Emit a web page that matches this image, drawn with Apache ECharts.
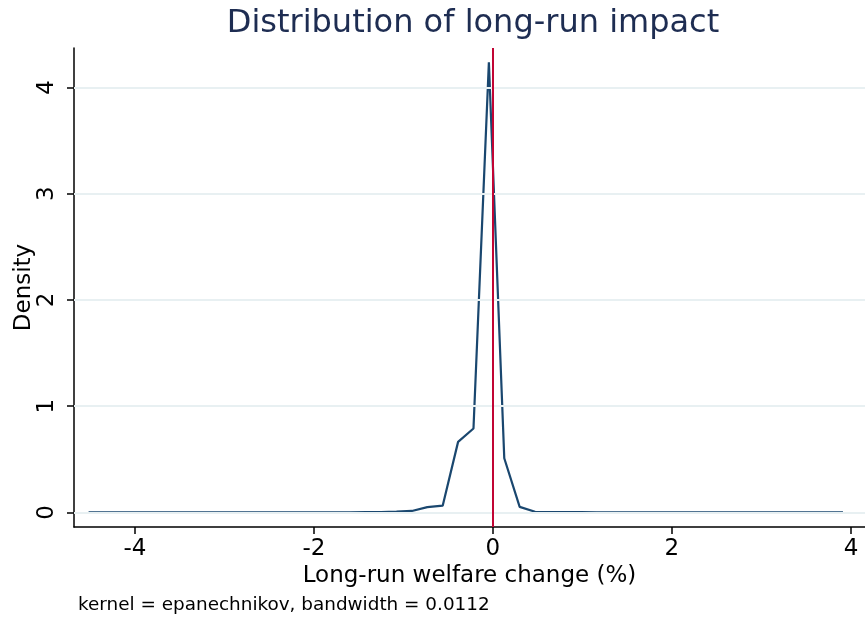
<!DOCTYPE html>
<html>
<head>
<meta charset="utf-8">
<script src="https://cdn.jsdelivr.net/npm/echarts@6/dist/echarts.min.js"></script>
<style>
  html, body { margin: 0; padding: 0; background: #fff; }
</style>
</head>
<body>
<div id="chart" style="width:865px;height:621px"></div>
<script>
// kdensity evaluation points (50 points between min and max)
const xValues = [
  -4.517, -4.345, -4.173, -4.001, -3.829, -3.657, -3.485, -3.313, -3.141, -2.969,
  -2.797, -2.625, -2.453, -2.281, -2.109, -1.937, -1.765, -1.593, -1.421, -1.249,
  -1.077, -0.905, -0.733, -0.561, -0.389, -0.217, -0.045, 0.127, 0.299, 0.471,
  0.643, 0.815, 0.987, 1.159, 1.331, 1.503, 1.675, 1.847, 2.019, 2.191,
  2.363, 2.535, 2.707, 2.879, 3.051, 3.223, 3.395, 3.567, 3.739, 3.911
];
const densityValues = [
  0, 0, 0, 0, 0, 0, 0, 0, 0, 0,
  0, 0, 0, 0, 0.001, 0.001, 0.002, 0.002, 0.003, 0.004,
  0.007, 0.014, 0.05, 0.064, 0.664, 0.79, 4.235, 0.51, 0.052, 0.006,
  0.004, 0.003, 0.003, 0.002, 0.002, 0.002, 0.002, 0.001, 0.001, 0.001,
  0.001, 0.001, 0.001, 0, 0, 0, 0, 0, 0, 0
];
const xTicks = [-4, -2, 0, 2, 4];
const yTicks = [0, 1, 2, 3, 4];
const refLineX = 0;

const font = "DejaVu Sans";
const chart = echarts.init(document.getElementById("chart"));

chart.setOption({
  animation: false,
  textStyle: { fontFamily: font },
  title: {
    text: "Distribution of long-run impact",
    left: 468,
    top: 3,
    textAlign: "center",
    textStyle: { fontFamily: font, fontSize: 32, fontWeight: "normal", color: "#1e2d52" }
  },
  graphic: [
    {
      type: "text",
      left: 78,
      top: 596,
      style: {
        text: "kernel = epanechnikov, bandwidth = 0.0112",
        font: "18.4px 'DejaVu Sans'",
        fill: "#000"
      }
    }
  ],
  grid: { left: 74, right: 0, top: 48, bottom: 94, outerBoundsMode: "none" },
  xAxis: {
    type: "value",
    min: -4.68,
    max: 4.157,
    name: "Long-run welfare change (%)",
    nameLocation: "middle",
    nameGap: 38,
    nameMoveOverlap: false,
    nameTextStyle: { fontFamily: font, fontSize: 23, color: "#000" },
    axisLine: { show: true, onZero: false, lineStyle: { color: "#000", width: 1.5 } },
    axisTick: { show: true, customValues: xTicks, length: 7, lineStyle: { color: "#000", width: 1.5 } },
    axisLabel: { customValues: xTicks, fontSize: 23, color: "#000", margin: 11, fontFamily: font },
    splitLine: { show: false }
  },
  yAxis: {
    type: "value",
    min: -0.137,
    max: 4.37,
    name: "Density",
    nameLocation: "middle",
    nameRotate: 90,
    nameGap: 38,
    nameMoveOverlap: false,
    nameTextStyle: { fontFamily: font, fontSize: 23, color: "#000" },
    axisLine: { show: true, onZero: false, lineStyle: { color: "#000", width: 1.5 } },
    axisTick: { show: true, customValues: yTicks, length: 7, lineStyle: { color: "#000", width: 1.5 } },
    axisLabel: { customValues: yTicks, rotate: 90, fontSize: 23, color: "#000", margin: 15, fontFamily: font },
    splitLine: { show: false }
  },
  series: [
    {
      // horizontal grid lines at the y ticks
      type: "line",
      data: [],
      silent: true,
      z: 1,
      markLine: {
        silent: true,
        symbol: "none",
        label: { show: false },
        lineStyle: { color: "#e8f0f2", width: 2, type: "solid" },
        data: yTicks.map(v => ({ yAxis: v }))
      }
    },
    {
      type: "line",
      data: xValues.map((x, i) => [x, densityValues[i]]),
      showSymbol: false,
      z: 3,
      lineStyle: { color: "#1a476f", width: 2.2 },
      itemStyle: { color: "#1a476f" }
    },
    {
      type: "line",
      data: [],
      silent: true,
      z: 4,
      markLine: {
        silent: true,
        symbol: "none",
        label: { show: false },
        lineStyle: { color: "#c10534", width: 2, type: "solid" },
        data: [{ xAxis: refLineX }]
      }
    }
  ]
});
</script>
</body>
</html>
